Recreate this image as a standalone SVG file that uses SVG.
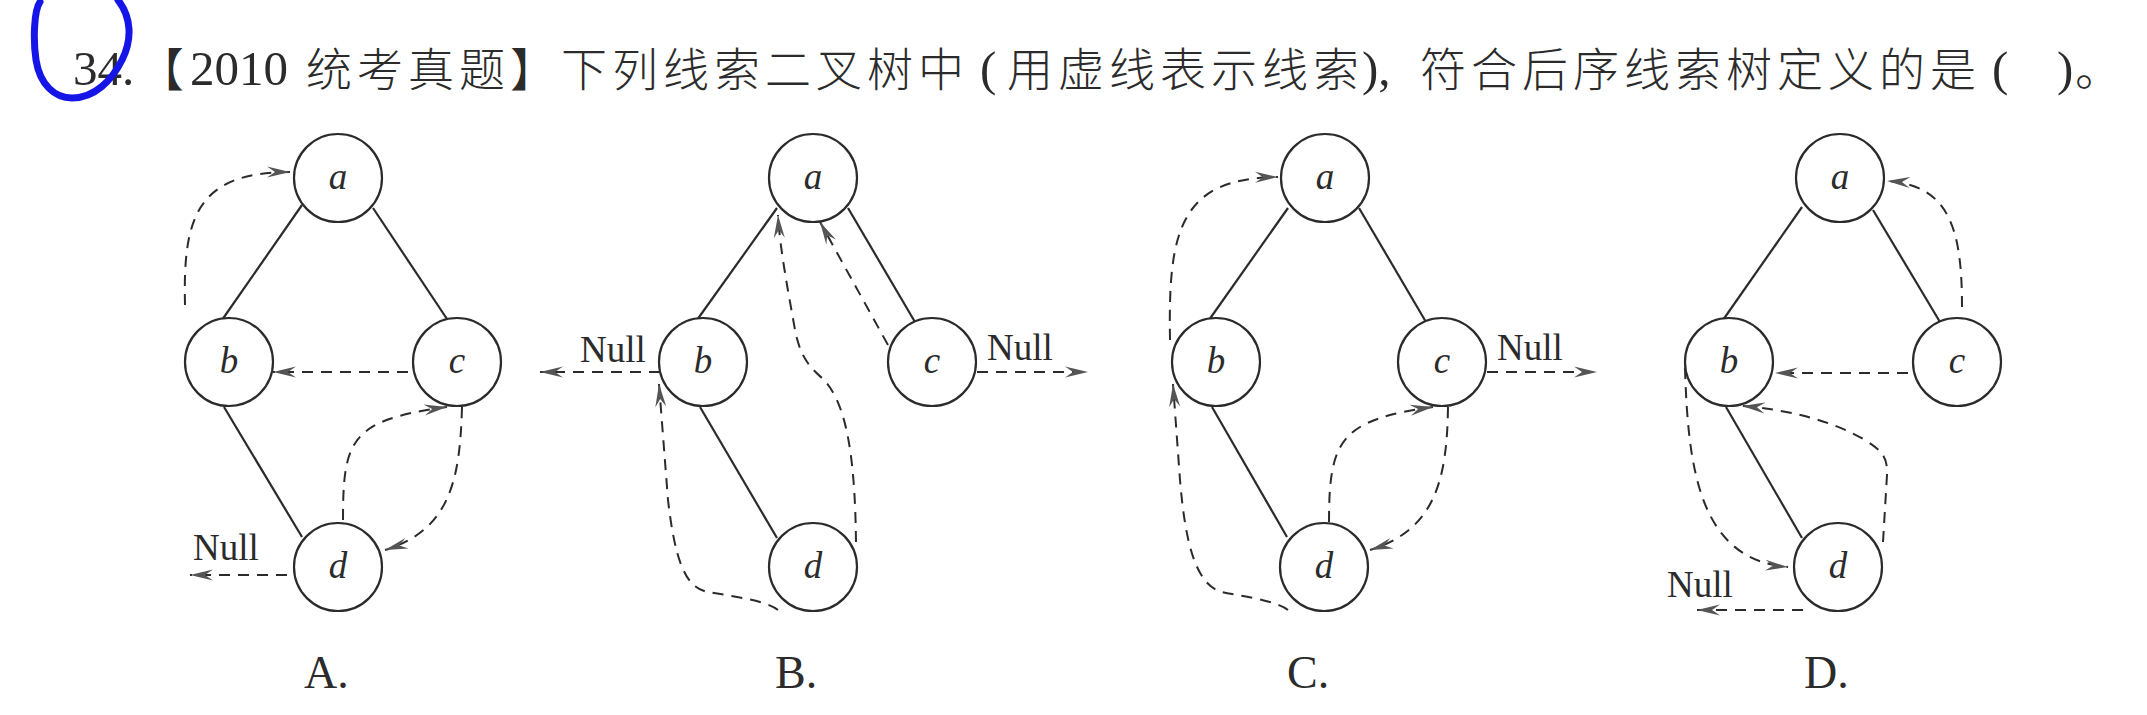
<svg xmlns="http://www.w3.org/2000/svg" width="2147" height="715" viewBox="0 0 2147 715">
<style>
.bg{fill:#ffffff}
.node circle{fill:#ffffff;stroke:#2b2b2b;stroke-width:2.2}
.node text{font-family:"Liberation Serif","Times New Roman",serif;font-style:italic;font-size:37px;fill:#2b2b2b;text-anchor:middle}
.edge{stroke:#2b2b2b;stroke-width:2.2;fill:none}
.thread{stroke:#2b2b2b;stroke-width:2;fill:none;stroke-dasharray:11 8;marker-end:url(#arr)}
.null{font-family:"Liberation Serif","Times New Roman",serif;font-size:37px;fill:#2b2b2b}
.lbl{font-family:"Liberation Serif","Times New Roman",serif;font-size:46px;fill:#2b2b2b}
.title{fill:#2b2b2b}
.lat{font-family:"Liberation Serif","Times New Roman",serif;font-size:49px;letter-spacing:0}
.cjk{font-family:"Noto Sans CJK SC","Liberation Serif",sans-serif;font-size:46px;letter-spacing:5px;font-weight:300}
</style>
<defs>
<marker id="arr" markerUnits="userSpaceOnUse" viewBox="0 0 24 14" markerWidth="24" markerHeight="14" refX="23" refY="7" orient="auto">
<path d="M0,1.5 L23,7 L0,12.5 L8,7 Z" fill="#555555"/>
</marker>
</defs>
<rect class="bg" x="0" y="0" width="2147" height="715"/>

<g id="title">
<text class="title" y="86"><tspan class="lat" x="73" y="85">34.</tspan><tspan class="cjk" x="138" y="86">【</tspan><tspan class="lat" x="190" y="85">2010</tspan><tspan class="cjk" x="306" y="86">统考真题】下列线索二叉树中</tspan><tspan class="lat" x="980" y="85">(</tspan><tspan class="cjk" x="1007" y="86">用虚线表示线索</tspan><tspan class="lat" x="1362" y="85">),</tspan><tspan class="cjk" x="1420" y="86">符合后序线索树定义的是</tspan><tspan class="lat" x="1992" y="85">(</tspan><tspan class="lat" x="2057" y="85">)</tspan><tspan class="cjk" x="2075" y="86">。</tspan></text>
</g>

<path id="mark" d="M40,2 C34,10 33,40 36,60 C40,85 55,98 72,98 C95,98 112,80 122,60 C132,40 132,18 118,0" fill="none" stroke="#1515e8" stroke-width="7" stroke-linecap="round"/>

<!-- Panel A -->
<g id="panelA">
<g id="A-connectors">
<line class="edge" x1="302" y1="205" x2="222" y2="320"/>
<line class="edge" x1="373" y1="208" x2="449" y2="322"/>
<line class="edge" x1="224" y1="407" x2="302" y2="537"/>
<path class="thread" d="M185,305 C183,220 195,172 290,172"/>
<path class="thread" d="M408,372 L273,372"/>
<path class="thread" d="M343,520 C343,440 350,420 447,407"/>
<path class="thread" d="M462,407 C460,480 450,530 385,550"/>
<path class="thread" d="M287,575 L190,575"/>
</g>
<g id="A-a" class="node"><circle cx="338" cy="178" r="44"/><text x="338" y="189">a</text></g>
<g id="A-b" class="node"><circle cx="229" cy="362" r="44"/><text x="229" y="373">b</text></g>
<g id="A-c" class="node"><circle cx="457" cy="362" r="44"/><text x="457" y="373">c</text></g>
<g id="A-d" class="node"><circle cx="338" cy="567" r="44"/><text x="338" y="578">d</text></g>
<text class="null" x="193" y="560">Null</text>
<text class="lbl" x="304" y="688">A.</text>
</g>

<!-- Panel B -->
<g id="panelB">
<g id="B-connectors">
<line class="edge" x1="777" y1="208" x2="697" y2="320"/>
<line class="edge" x1="848" y1="208" x2="915" y2="322"/>
<line class="edge" x1="700" y1="407" x2="777" y2="538"/>
<path class="thread" d="M660,372 L540,372"/>
<path class="thread" d="M977,372 L1088,372"/>
<path class="thread" d="M778,610 C765,600 730,596 708,592 C685,588 675,560 668,500 L659,384"/>
<path class="thread" d="M856,542 C855,450 845,400 822,378 C808,366 800,355 795,330 C788,290 780,250 778,215"/>
<path class="thread" d="M888,345 L820,222"/>
</g>
<g id="B-a" class="node"><circle cx="813" cy="178" r="44"/><text x="813" y="189">a</text></g>
<g id="B-b" class="node"><circle cx="703" cy="362" r="44"/><text x="703" y="373">b</text></g>
<g id="B-c" class="node"><circle cx="932" cy="362" r="44"/><text x="932" y="373">c</text></g>
<g id="B-d" class="node"><circle cx="813" cy="567" r="44"/><text x="813" y="578">d</text></g>
<text class="null" x="580" y="362">Null</text>
<text class="null" x="987" y="360">Null</text>
<text class="lbl" x="775" y="688">B.</text>
</g>

<!-- Panel C -->
<g id="panelC">
<g id="C-connectors">
<line class="edge" x1="1288" y1="208" x2="1209" y2="320"/>
<line class="edge" x1="1359" y1="208" x2="1426" y2="322"/>
<line class="edge" x1="1212" y1="407" x2="1287" y2="537"/>
<path class="thread" d="M1170,340 C1168,230 1180,178 1278,177"/>
<path class="thread" d="M1288,610 C1275,600 1240,596 1222,592 C1195,585 1185,540 1180,480 L1173,384"/>
<path class="thread" d="M1329,522 C1329,440 1340,420 1433,407"/>
<path class="thread" d="M1448,407 C1447,480 1435,530 1370,550"/>
<path class="thread" d="M1487,372 L1597,372"/>
</g>
<g id="C-a" class="node"><circle cx="1325" cy="178" r="44"/><text x="1325" y="189">a</text></g>
<g id="C-b" class="node"><circle cx="1216" cy="362" r="44"/><text x="1216" y="373">b</text></g>
<g id="C-c" class="node"><circle cx="1442" cy="362" r="44"/><text x="1442" y="373">c</text></g>
<g id="C-d" class="node"><circle cx="1324" cy="567" r="44"/><text x="1324" y="578">d</text></g>
<text class="null" x="1497" y="360">Null</text>
<text class="lbl" x="1287" y="688">C.</text>
</g>

<!-- Panel D -->
<g id="panelD">
<g id="D-connectors">
<line class="edge" x1="1802" y1="207" x2="1723" y2="320"/>
<line class="edge" x1="1873" y1="210" x2="1940" y2="322"/>
<line class="edge" x1="1726" y1="407" x2="1802" y2="538"/>
<path class="thread" d="M1962,307 C1962,230 1950,185 1887,181"/>
<path class="thread" d="M1908,373 L1775,373"/>
<path class="thread" d="M1685,368 C1688,470 1700,560 1788,567"/>
<path class="thread" d="M1883,542 L1887,475 C1888,455 1880,450 1865,440 C1830,420 1790,410 1742,406"/>
<path class="thread" d="M1803,610 L1697,610"/>
</g>
<g id="D-a" class="node"><circle cx="1840" cy="178" r="44"/><text x="1840" y="189">a</text></g>
<g id="D-b" class="node"><circle cx="1729" cy="362" r="44"/><text x="1729" y="373">b</text></g>
<g id="D-c" class="node"><circle cx="1957" cy="362" r="44"/><text x="1957" y="373">c</text></g>
<g id="D-d" class="node"><circle cx="1838" cy="567" r="44"/><text x="1838" y="578">d</text></g>
<text class="null" x="1667" y="597">Null</text>
<text class="lbl" x="1804" y="688">D.</text>
</g>
</svg>
